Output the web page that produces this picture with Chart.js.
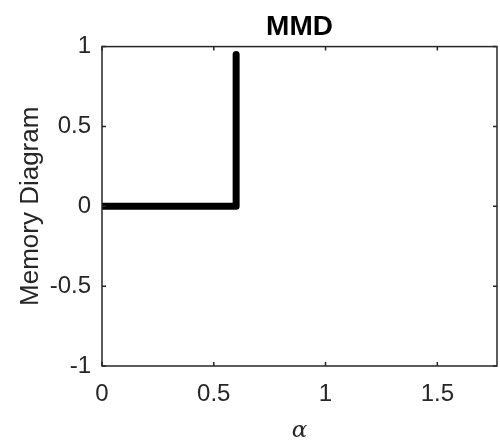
<!DOCTYPE html>
<html>
<head>
<meta charset="utf-8">
<script src="https://cdn.jsdelivr.net/npm/chart.js@4"></script>
<style>
  html, body { margin: 0; padding: 0; background: #fff; }
  #wrap { width: 500px; height: 448px; }
</style>
</head>
<body>
<div id="wrap"><canvas id="myChart" width="500" height="448"></canvas></div>
<script>
const alphaValues = [0, 0.6, 0.6];
const memoryValues = [0, 0, 0.95];

const xTicks = [0, 0.5, 1, 1.5];
const yTicks = [-1, -0.5, 0, 0.5, 1];
const xMax = 1.767;

const axisColor = '#262626';

// box round the plot with inward ticks, matlab style
const boxPlugin = {
    id: 'box',
    afterDraw: (chart) => {
        const ctx = chart.ctx;
        const a = chart.chartArea;
        const xs = chart.scales.x;
        const ys = chart.scales.y;
        ctx.save();
        ctx.strokeStyle = axisColor;
        ctx.lineWidth = 1.5;
        ctx.strokeRect(a.left, a.top, a.right - a.left, a.bottom - a.top);
        ctx.beginPath();
        xTicks.forEach(v => {
            const px = xs.getPixelForValue(v);
            ctx.moveTo(px, a.bottom); ctx.lineTo(px, a.bottom - 4);
            ctx.moveTo(px, a.top); ctx.lineTo(px, a.top + 4);
        });
        yTicks.forEach(v => {
            const py = ys.getPixelForValue(v);
            ctx.moveTo(a.left, py); ctx.lineTo(a.left + 4, py);
            ctx.moveTo(a.right, py); ctx.lineTo(a.right - 4, py);
        });
        ctx.stroke();
        ctx.restore();
    }
};

const ctx = document.getElementById('myChart').getContext('2d');
const myChart = new Chart(ctx, {
    type: 'scatter',
    data: {
        datasets: [{
            data: alphaValues.map((x, i) => ({ x, y: memoryValues[i] })),
            showLine: true,
            borderColor: '#000',
            backgroundColor: '#000',
            borderWidth: 7,
            borderJoinStyle: 'round',
            borderCapStyle: 'round',
            pointRadius: 0,
            clip: 0
        }]
    },
    options: {
        responsive: false,
        animation: false,
        layout: { padding: { top: 0, right: 3, bottom: 0, left: 0 } },
        plugins: {
            legend: { display: false },
            tooltip: { enabled: false },
            title: {
                display: true,
                fullSize: false,
                text: 'MMD',
                color: '#000',
                font: { family: 'Liberation Sans', size: 28, weight: 'bold' },
                padding: { top: 10, bottom: 3 }
            }
        },
        scales: {
            x: {
                type: 'linear',
                min: 0,
                max: xMax,
                afterBuildTicks: (scale) => { scale.ticks = xTicks.map(v => ({ value: v })); },
                afterFit: (scale) => { scale.height = 82; },
                grid: { display: false, drawTicks: false },
                border: { display: false },
                ticks: {
                    color: '#262626',
                    padding: 14,
                    maxRotation: 0,
                    font: { family: 'Liberation Sans', size: 24 },
                    callback: (v) => String(v)
                },
                title: {
                    display: true,
                    text: 'α',
                    color: '#262626',
                    font: { family: 'DejaVu Serif', size: 23, style: 'italic' },
                    padding: { top: 0, bottom: 3 }
                }
            },
            y: {
                min: -1,
                max: 1,
                afterBuildTicks: (scale) => { scale.ticks = yTicks.map(v => ({ value: v })); },
                afterFit: (scale) => { scale.width = 102; },
                grid: { display: false, drawTicks: false },
                border: { display: false },
                ticks: {
                    color: '#262626',
                    padding: 11,
                    font: { family: 'Liberation Sans', size: 24 },
                    callback: (v) => String(v)
                },
                title: {
                    display: true,
                    text: 'Memory Diagram',
                    color: '#262626',
                    font: { family: 'Liberation Sans', size: 26 },
                    padding: { top: 15, bottom: 0 }
                }
            }
        }
    },
    plugins: [boxPlugin]
});
</script>
</body>
</html>
